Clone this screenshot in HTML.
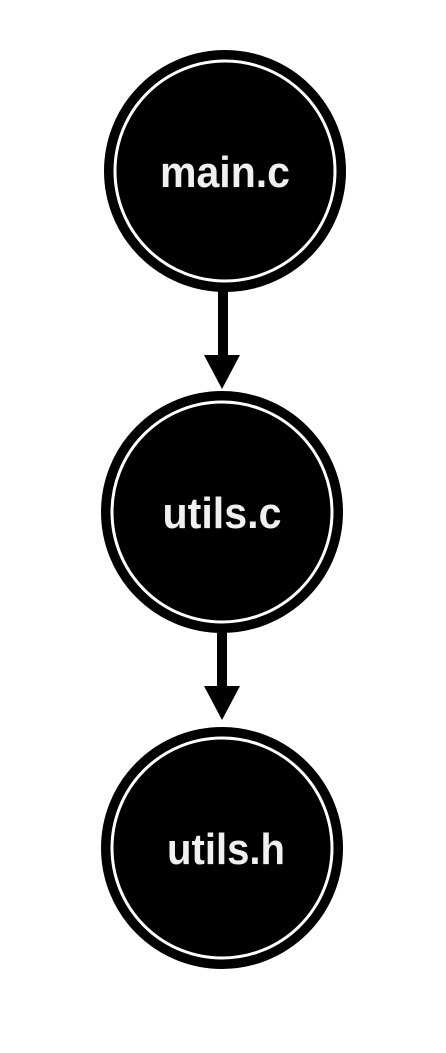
<!DOCTYPE html>
<html><head><style>
html,body{margin:0;padding:0;background:#fff;}
svg{display:block;}
text{font-family:"Liberation Sans",sans-serif;font-weight:bold;font-size:44px;fill:#f0f0f0;text-anchor:middle;}
</style></head><body>
<svg width="446" height="1053" viewBox="0 0 446 1053">
<g>
<circle cx="225" cy="171" r="117" fill="#000" stroke="#000" stroke-width="8"/>
<circle cx="225" cy="171" r="110" fill="none" stroke="#fff" stroke-width="3"/>
<text x="225" y="187" textLength="130" lengthAdjust="spacingAndGlyphs">main.c</text>
</g>
<rect x="218" y="291" width="10" height="66" fill="#000"/>
<polygon points="204,355 240,355 222,389" fill="#000"/>
<g>
<circle cx="222" cy="512" r="117" fill="#000" stroke="#000" stroke-width="8"/>
<circle cx="222" cy="512" r="110" fill="none" stroke="#fff" stroke-width="3"/>
<text x="222" y="528" textLength="119" lengthAdjust="spacingAndGlyphs">utils.c</text>
</g>
<rect x="217" y="630" width="10" height="58" fill="#000"/>
<polygon points="204,686 240,686 222,720" fill="#000"/>
<g>
<circle cx="222" cy="848" r="117" fill="#000" stroke="#000" stroke-width="8"/>
<circle cx="222" cy="848" r="110" fill="none" stroke="#fff" stroke-width="3"/>
<text x="226" y="864" textLength="118" lengthAdjust="spacingAndGlyphs">utils.h</text>
</g>
</svg>
</body></html>
